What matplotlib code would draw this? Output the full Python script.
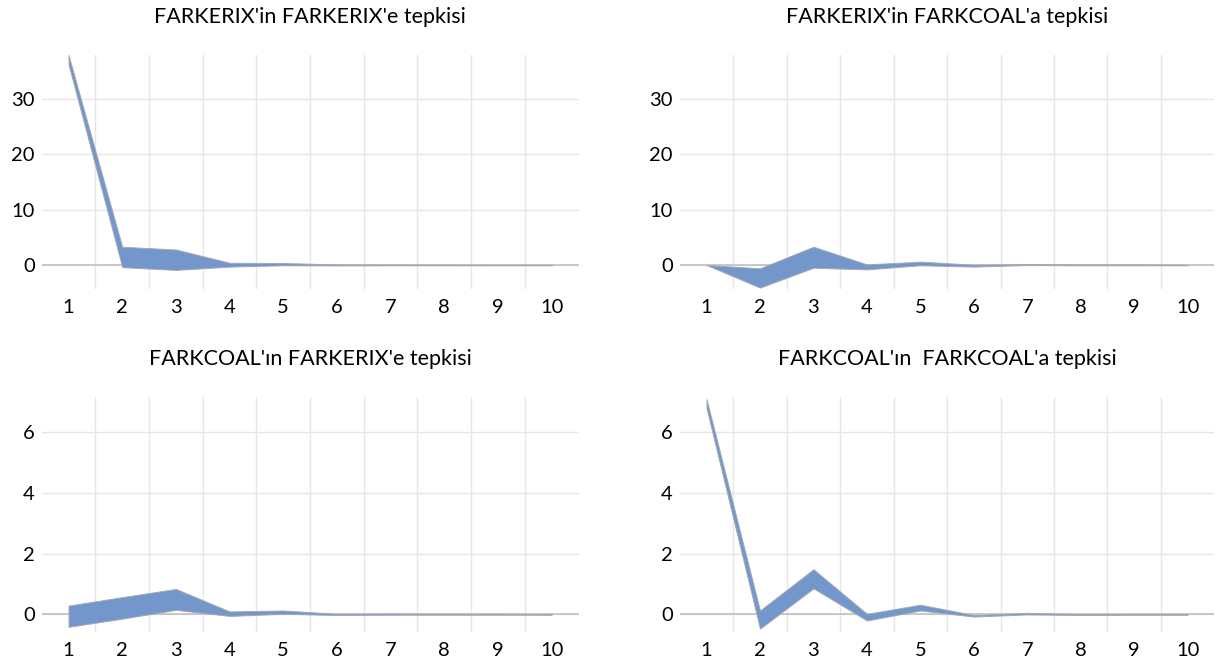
import numpy as np
import matplotlib
matplotlib.use("Agg")
import matplotlib.pyplot as plt

plt.rcParams['font.family'] = ['Lato', 'DejaVu Sans']

periods = list(range(1, 11))

# etki-tepki güven bantları (üst / alt)
erix_erix_upper = [38.0, 3.3, 2.8, 0.4, 0.35, 0.1, 0.08, 0.06, 0.05, 0.05]
erix_erix_lower = [36.3, -0.4, -0.9, -0.3, -0.05, -0.08, -0.05, -0.05, -0.05, -0.05]

erix_coal_upper = [0.0, -0.6, 3.3, 0.1, 0.6, 0.05, 0.15, 0.1, 0.1, 0.05]
erix_coal_lower = [0.0, -4.1, -0.5, -0.8, -0.05, -0.3, 0.0, -0.05, -0.05, -0.05]

coal_erix_upper = [0.29, 0.57, 0.84, 0.10, 0.13, 0.02, 0.03, 0.02, 0.02, 0.01]
coal_erix_lower = [-0.41, -0.14, 0.15, -0.05, 0.02, -0.02, -0.01, -0.01, -0.01, -0.01]

coal_coal_upper = [7.10, 0.13, 1.49, 0.02, 0.32, -0.02, 0.05, 0.01, 0.01, 0.01]
coal_coal_lower = [6.80, -0.47, 0.86, -0.20, 0.13, -0.07, 0.00, -0.02, -0.01, -0.01]

titles = ["FARKERIX'in FARKERIX'e tepkisi", "FARKERIX'in FARKCOAL'a tepkisi",
          "FARKCOAL'ın FARKERIX'e tepkisi", "FARKCOAL'ın  FARKCOAL'a tepkisi"]

W, H = 1216, 661
fig = plt.figure(figsize=(W / 100, H / 100), dpi=100)

def px_axes(x0, x1, y0, y1):
    return fig.add_axes([x0 / W, 1 - y1 / H, (x1 - x0) / W, (y1 - y0) / H])

panels = [
    (px_axes(41.7, 578.5, 55, 289), erix_erix_upper, erix_erix_lower, (-4.35, 38.0), [0, 10, 20, 30]),
    (px_axes(679.8, 1214.4, 55, 289), erix_coal_upper, erix_coal_lower, (-4.35, 38.0), [0, 10, 20, 30]),
    (px_axes(41.7, 578.5, 397, 632), coal_erix_upper, coal_erix_lower, (-0.58, 7.17), [0, 2, 4, 6]),
    (px_axes(679.8, 1214.4, 397, 632), coal_coal_upper, coal_coal_lower, (-0.58, 7.17), [0, 2, 4, 6]),
]

for (ax, upper, lower, ylim, yticks), title in zip(panels, titles):
    ax.fill_between(periods, lower, upper, facecolor='#7396CB', edgecolor='#A3A9B3',
                    linewidth=0.7, zorder=3)
    ax.set_xlim(0.5, 10.5)
    ax.set_ylim(*ylim)
    ax.set_yticks(yticks)
    ax.set_xticks(periods)
    ax.set_xticklabels([str(p) for p in periods])
    ax.set_xticks(np.arange(1.5, 10, 1), minor=True)
    ax.grid(axis='y', which='major', color='#E6E6E6', linewidth=1.0, zorder=0)
    ax.grid(axis='x', which='minor', color='#E6E6E6', linewidth=1.0, zorder=0)
    ax.axhline(0, color='#C4C4C4', linewidth=1.3, zorder=2)
    ax.tick_params(which='both', length=0, labelsize=14.5, colors='#000000')
    ax.tick_params(axis='x', pad=7)
    ax.tick_params(axis='y', pad=5)
    for s in ax.spines.values():
        s.set_visible(False)
    pos = ax.get_position()
    top_px = (1 - pos.y1) * H
    fig.text((pos.x0 + pos.x1) / 2, 1 - (top_px - 38) / H, title,
             ha='center', va='center', fontsize=15.5, color='#000000')

fig.savefig('out.png', dpi=100)
